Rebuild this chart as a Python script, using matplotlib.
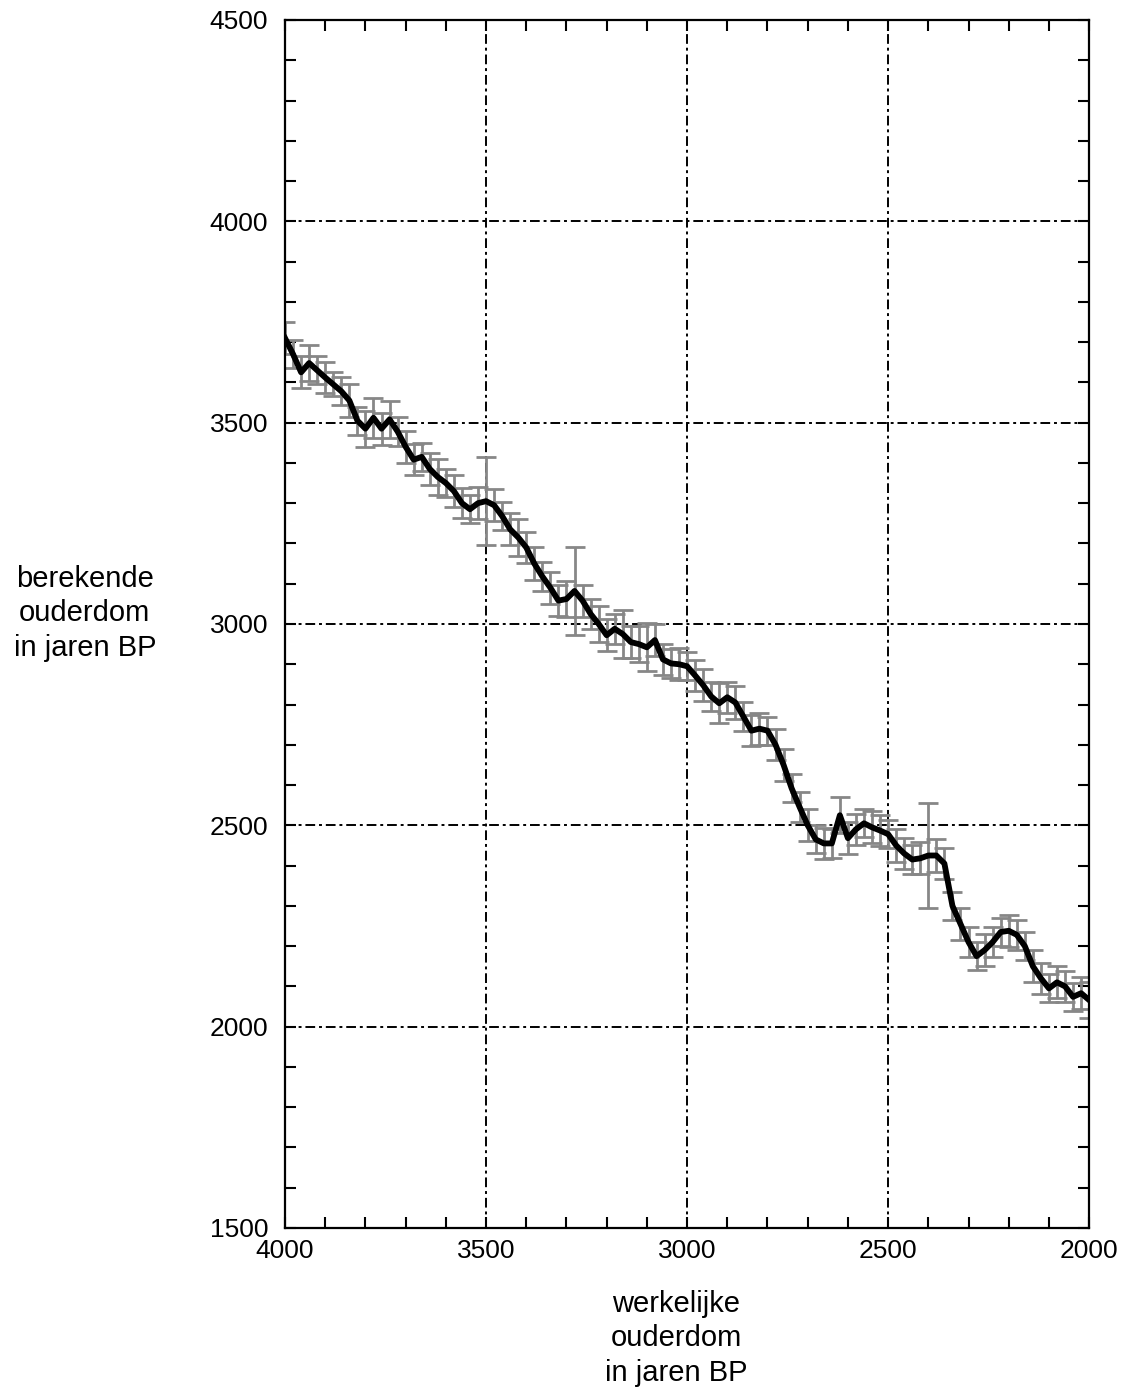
import matplotlib.pyplot as plt
import numpy as np
from matplotlib.ticker import MultipleLocator

plt.rcParams['font.family'] = ['Liberation Sans', 'DejaVu Sans']

# werkelijke ouderdom (jaren BP), every 20 years from 4000 to 2000
real_age = [4000, 3980, 3960, 3940, 3920, 3900, 3880, 3860, 3840, 3820,
            3800, 3780, 3760, 3740, 3720, 3700, 3680, 3660, 3640, 3620,
            3600, 3580, 3560, 3540, 3520, 3500, 3480, 3460, 3440, 3420,
            3400, 3380, 3360, 3340, 3320, 3300, 3280, 3260, 3240, 3220,
            3200, 3180, 3160, 3140, 3120, 3100, 3080, 3060, 3040, 3020,
            3000, 2980, 2960, 2940, 2920, 2900, 2880, 2860, 2840, 2820,
            2800, 2780, 2760, 2740, 2720, 2700, 2680, 2660, 2640, 2620,
            2600, 2580, 2560, 2540, 2520, 2500, 2480, 2460, 2440, 2420,
            2400, 2380, 2360, 2340, 2320, 2300, 2280, 2260, 2240, 2220,
            2200, 2180, 2160, 2140, 2120, 2100, 2080, 2060, 2040, 2020,
            2000]

# berekende ouderdom (jaren BP)
calc_age = [3710, 3670, 3625, 3648, 3630, 3612, 3595, 3578, 3555, 3505,
            3485, 3512, 3485, 3508, 3478, 3440, 3408, 3415, 3385, 3365,
            3350, 3330, 3300, 3285, 3300, 3305, 3295, 3268, 3235, 3215,
            3190, 3150, 3118, 3090, 3058, 3062, 3082, 3058, 3025, 3000,
            2972, 2988, 2975, 2955, 2950, 2942, 2960, 2912, 2902, 2900,
            2895, 2872, 2848, 2820, 2803, 2818, 2805, 2770, 2735, 2740,
            2735, 2700, 2650, 2592, 2545, 2500, 2465, 2455, 2455, 2525,
            2468, 2490, 2505, 2495, 2487, 2478, 2450, 2430, 2415, 2418,
            2425, 2425, 2405, 2300, 2255, 2210, 2175, 2190, 2210, 2235,
            2238, 2228, 2200, 2150, 2120, 2095, 2110, 2100, 2074, 2083,
            2066]

# standaardfout
error = [40, 35, 40, 45, 35, 38, 30, 35, 40, 35,
         45, 50, 40, 45, 35, 40, 38, 35, 40, 45,
         35, 40, 38, 35, 40, 110, 40, 35, 40, 45,
         38, 40, 35, 40, 38, 45, 110, 40, 38, 45,
         40, 38, 60, 40, 45, 60, 40, 38, 35, 40,
         35, 38, 40, 35, 50, 38, 40, 35, 38, 40,
         35, 38, 40, 35, 38, 40, 35, 38, 35, 45,
         40, 38, 35, 40, 38, 35, 40, 38, 35, 40,
         130, 40, 38, 35, 40, 38, 35, 40, 38, 35,
         40, 38, 35, 40, 38, 35, 40, 38, 35, 40,
         45]

fig = plt.figure(figsize=(11.31, 13.97), dpi=100)
ax = fig.add_axes([0.252, 0.121, 0.711, 0.8647])

ax.errorbar(real_age, calc_age, yerr=error, fmt='none', ecolor='#878787',
            elinewidth=2.0, capsize=7, capthick=2.0, zorder=2)
ax.plot(real_age, calc_age, color='black', lw=4.2, zorder=3)

ax.set_xlim(4000, 2000)
ax.set_ylim(1500, 4500)
ax.xaxis.set_major_locator(MultipleLocator(500))
ax.xaxis.set_minor_locator(MultipleLocator(100))
ax.yaxis.set_major_locator(MultipleLocator(500))
ax.yaxis.set_minor_locator(MultipleLocator(100))
ax.tick_params(which='both', direction='in', top=True, right=True,
               length=8, width=1.5, labelsize=19)
ax.tick_params(axis='y', pad=12)
ax.tick_params(axis='x', pad=8)
for s in ax.spines.values():
    s.set_linewidth(1.6)

ax.grid(True, which='major', color='black', lw=1.4,
        linestyle=(0, (5, 2, 1.5, 2)), zorder=1)
ax.set_axisbelow(True)

fig.text(0.075, 0.561, 'berekende\nouderdom\nin jaren BP', ha='center',
         va='center', fontsize=21, linespacing=1.3)
fig.text(0.598, 0.042, 'werkelijke\nouderdom\nin jaren BP', ha='center',
         va='center', fontsize=21, linespacing=1.3)

fig.savefig('out.png', dpi=100)
